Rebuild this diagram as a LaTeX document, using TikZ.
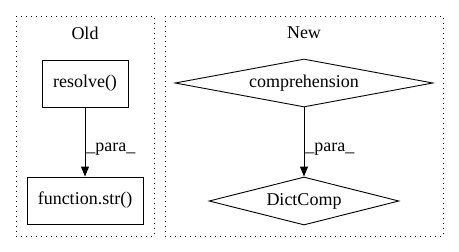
\documentclass[tikz,border=0pt]{standalone}
\usepackage{fontspec}
\setmainfont{Liberation Serif}
\usetikzlibrary{shapes.geometric,arrows.meta}
\begin{document}
\begin{tikzpicture}[x=1pt,y=-1pt,
  every node/.style={font=\fontsize{18}{21}\selectfont},
  cluster/.style={draw,line width=0.9pt,dash pattern=on 1pt off 4pt},
  box/.style={draw,line width=0.9pt,rectangle,inner sep=0pt,minimum height=47pt},
  dia/.style={draw,line width=0.9pt,diamond,inner sep=0pt,minimum height=48pt},
  flow/.style={line width=0.9pt,-{Triangle[length=10pt,width=8pt]}},
  elabel/.style={anchor=west,inner sep=0pt}
]
\useasboundingbox (0,0) rectangle (459,252);
% clusters
\draw[cluster] (16,16) rectangle (154,236);
\node (oldlbl) at (85,33) {Old};
\draw[cluster] (165,16) rectangle (443,236);
\node (newlbl) at (304,33) {New};
% old graph
\node[box,minimum width=86pt] (resolve) at (85,83.5) {resolve()};
\node[box,minimum width=116pt] (fstr) at (85,200.5) {function.str()};
\draw[flow] (resolve) -- (fstr) node[elabel,pos=0.61,xshift=1pt] (l1) {\_para\_};
% new graph
\node[dia,minimum width=258pt,shape aspect=5.375] (comp) at (304,83) {comprehension};
\node[dia,minimum width=190pt,shape aspect=3.96] (dict) at (304,201) {DictComp};
\draw[flow] (comp) -- (dict) node[elabel,pos=0.61,xshift=1pt] (l2) {\_para\_};
\end{tikzpicture}
\end{document}
